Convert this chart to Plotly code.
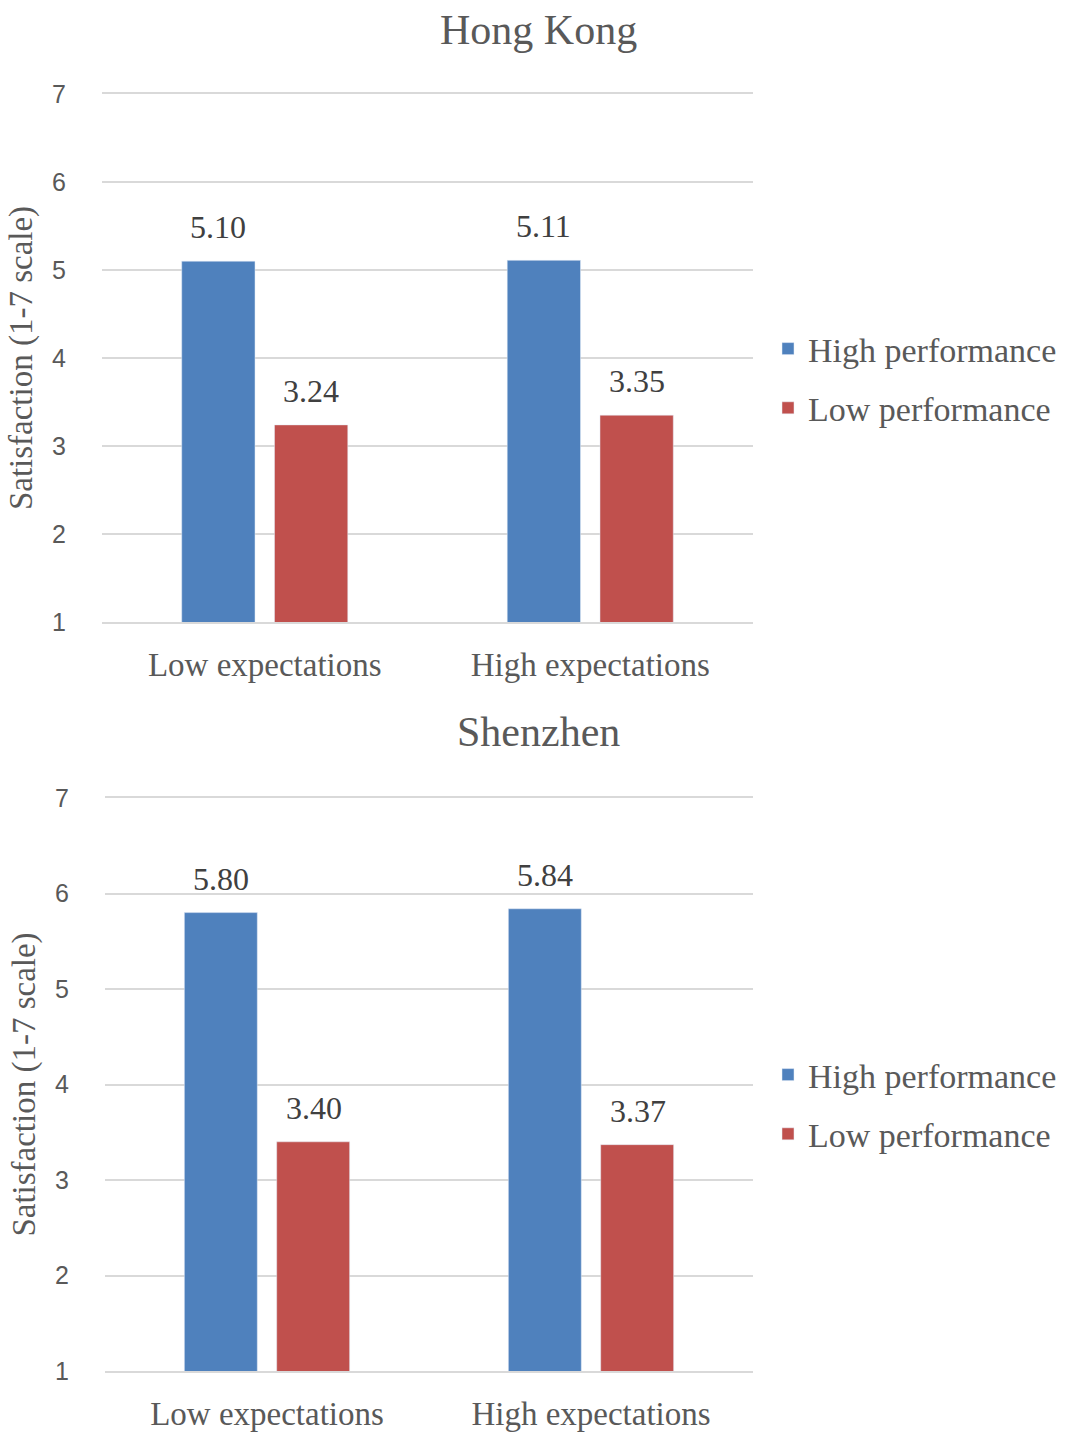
import plotly.graph_objects as go

categories = ["Low expectations", "High expectations"]
series_names = ["High performance", "Low performance"]
hk_high = [5.10, 5.11]
hk_low = [3.24, 3.35]
sz_high = [5.80, 5.84]
sz_low = [3.40, 3.37]
panel_titles = ["Hong Kong", "Shenzhen"]
y_ticks = [1, 2, 3, 4, 5, 6, 7]

colors = ["#4F81BD", "#C0504D"]
W, H = 1073, 1432
SERIF = "Liberation Serif, Times New Roman, serif"
SANS = "Liberation Sans, Arial, sans-serif"
TXT = "#595959"


def px_x(p):
    return p / W


def px_y(p):
    return 1 - p / H


fig = go.Figure()

panels = [
    (hk_high, hk_low, "x", "y", "legend"),
    (sz_high, sz_low, "x2", "y2", "legend2"),
]
for pi, (hi, lo, xa, ya, lg) in enumerate(panels):
    for si, (vals, name) in enumerate(zip([hi, lo], series_names)):
        fig.add_trace(go.Bar(
            x=categories, y=vals, name=name, marker_color=colors[si],
            xaxis=xa, yaxis=ya, legend=lg, legendgroup=f"{pi}-{si}",
            offsetgroup=str(si),
        ))
        for c, v in zip(categories, vals):
            fig.add_annotation(
                x=c, y=v, xref=xa, yref=ya, text=f"{v:.2f}", showarrow=False,
                xshift=(-46.5 if si == 0 else 46.5), yshift=14, yanchor="bottom",
                font=dict(family=SERIF, size=32, color="#404040"),
            )

axis_common = dict(
    range=[1, 7], tickvals=y_ticks, showgrid=True, gridcolor="#D9D9D9", gridwidth=1.5,
    zeroline=False, showline=False, ticks="", ticklabelstandoff=35,
    tickfont=dict(family=SANS, size=25, color=TXT),
    title=dict(text="Satisfaction (1-7 scale)", font=dict(family=SERIF, size=33, color=TXT), standoff=9),
)
xaxis_common = dict(
    showgrid=False, showline=True, mirror=True, linecolor="#D9D9D9", linewidth=1.5, ticks="",
    ticklabelstandoff=13, tickfont=dict(family=SERIF, size=33, color=TXT),
)

legend_common = dict(
    xanchor="left", yanchor="top", font=dict(family=SERIF, size=34, color=TXT),
    tracegroupgap=12, bgcolor="rgba(0,0,0,0)",
)

fig.update_layout(
    width=W, height=H, paper_bgcolor="white", plot_bgcolor="white",
    margin=dict(l=0, r=0, t=0, b=0, autoexpand=False),
    barmode="group", bargap=0.43, bargroupgap=0.21,
    showlegend=True,
    xaxis=dict(domain=[px_x(102), px_x(753)], anchor="y", **xaxis_common),
    yaxis=dict(domain=[px_y(622), px_y(94)], anchor="x", **axis_common),
    xaxis2=dict(domain=[px_x(105), px_x(753)], anchor="y2", **xaxis_common),
    yaxis2=dict(domain=[px_y(1371), px_y(798)], anchor="x2", **axis_common),
    legend=dict(x=px_x(768), y=px_y(320), **legend_common),
    legend2=dict(x=px_x(768), y=px_y(1046), **legend_common),
)

title_y = [30, 732]
for t, yp in zip(panel_titles, title_y):
    fig.add_annotation(
        x=px_x(538), y=px_y(yp), xref="paper", yref="paper", text=t,
        showarrow=False, yanchor="middle", xanchor="center",
        font=dict(family=SERIF, size=42, color=TXT),
    )

fig.write_html(
    "out.html",
    config={"displayModeBar": False},
    post_script="document.body.style.margin='0px';document.body.style.overflow='hidden';",
)
